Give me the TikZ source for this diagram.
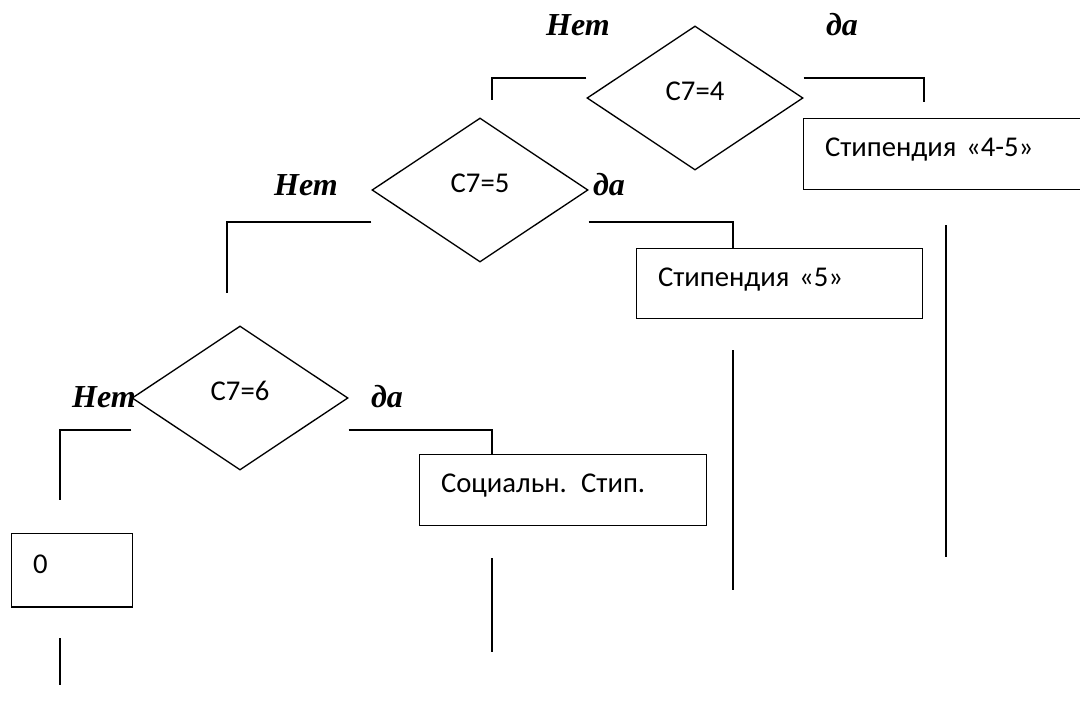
\documentclass[tikz,border=0pt]{standalone}
\usepackage{fontspec}
\setmainfont{Carlito}[WordSpace=0.65]
\newfontfamily\answerfont{Liberation Serif}
\usepackage{tikz}
\usetikzlibrary{shapes, positioning}

\begin{document}
\begin{tikzpicture}[x=0.75pt, y=-0.75pt, line width=1pt,
    cond/.style={diamond, draw, inner sep=0pt, minimum width=162pt, minimum height=108pt,
        text height=15pt, text depth=11pt, font=\fontsize{21.5}{24}\selectfont},
    result/.style={rectangle, draw, anchor=north west, inner xsep=16pt, inner ysep=0pt,
        text height=15pt, text depth=11pt, align=left, font=\fontsize{21.5}{24}\selectfont},
    answer/.style={anchor=base, font=\answerfont\bfseries\itshape\fontsize{24}{27}\selectfont}]
        \useasboundingbox (0,0) rectangle (1080,700);

        \node[cond] (dec4) at (695, 98) {C7=4};
        \node[cond] (dec5) at (480, 190) {C7=5};
        \node[cond] (dec6) at (240, 398) {C7=6};

        \node[result, minimum width=214.5pt, minimum height=53pt, text width=182.5pt] (out45) at (803, 118) {Стипендия «4-5»};
        \node[result, minimum width=214.5pt, minimum height=52.5pt, text width=182.5pt] (out5) at (636, 248) {Стипендия «5»};
        \node[result, minimum width=215pt, minimum height=53pt, text width=183pt] (outsoc) at (419, 454) {Социальн. Стип.};
        \node[result, minimum width=90.75pt, minimum height=55pt, text width=58.75pt] (out0) at (11, 533) {0};

        \node[answer] (no4) at (578, 35) {Нет};
        \node[answer] (yes4) at (842, 35) {да};
        \node[answer] (no5) at (306, 195) {Нет};
        \node[answer] (yes5) at (609, 195) {да};
        \node[answer] (no6) at (104, 407) {Нет};
        \node[answer] (yes6) at (387, 407) {да};

        \coordinate (n4) at (492, 100);
        \coordinate (y4) at (924, 102);
        \coordinate (n5) at (227, 293);
        \coordinate (y5) at (733, 248);
        \coordinate (n6) at (60, 500);
        \coordinate (y6) at (492, 454);

        \draw ([yshift=15pt]dec4.west) -| (n4);
        \draw ([yshift=15pt]dec4.east) -| (y4);
        \draw ([yshift=-24pt]dec5.west) -| (n5);
        \draw ([yshift=-24pt]dec5.east) -| (y5);
        \draw ([yshift=-24pt]dec6.west) -| (n6);
        \draw ([yshift=-24pt]dec6.east) -| (y6);

        % loose ends below the results
        \coordinate (t45) at (946, 225);
        \coordinate (e45) at (946, 557);
        \coordinate (t5) at (733, 350);
        \coordinate (e5) at (733, 590);
        \coordinate (tsoc) at (492, 558);
        \coordinate (esoc) at (492, 652);
        \coordinate (t0) at (60, 638);
        \coordinate (e0) at (60, 685);
        \draw (t45) -- (e45);
        \draw (t5) -- (e5);
        \draw (tsoc) -- (esoc);
        \draw (t0) -- (e0);
    \end{tikzpicture}
\end{document}
